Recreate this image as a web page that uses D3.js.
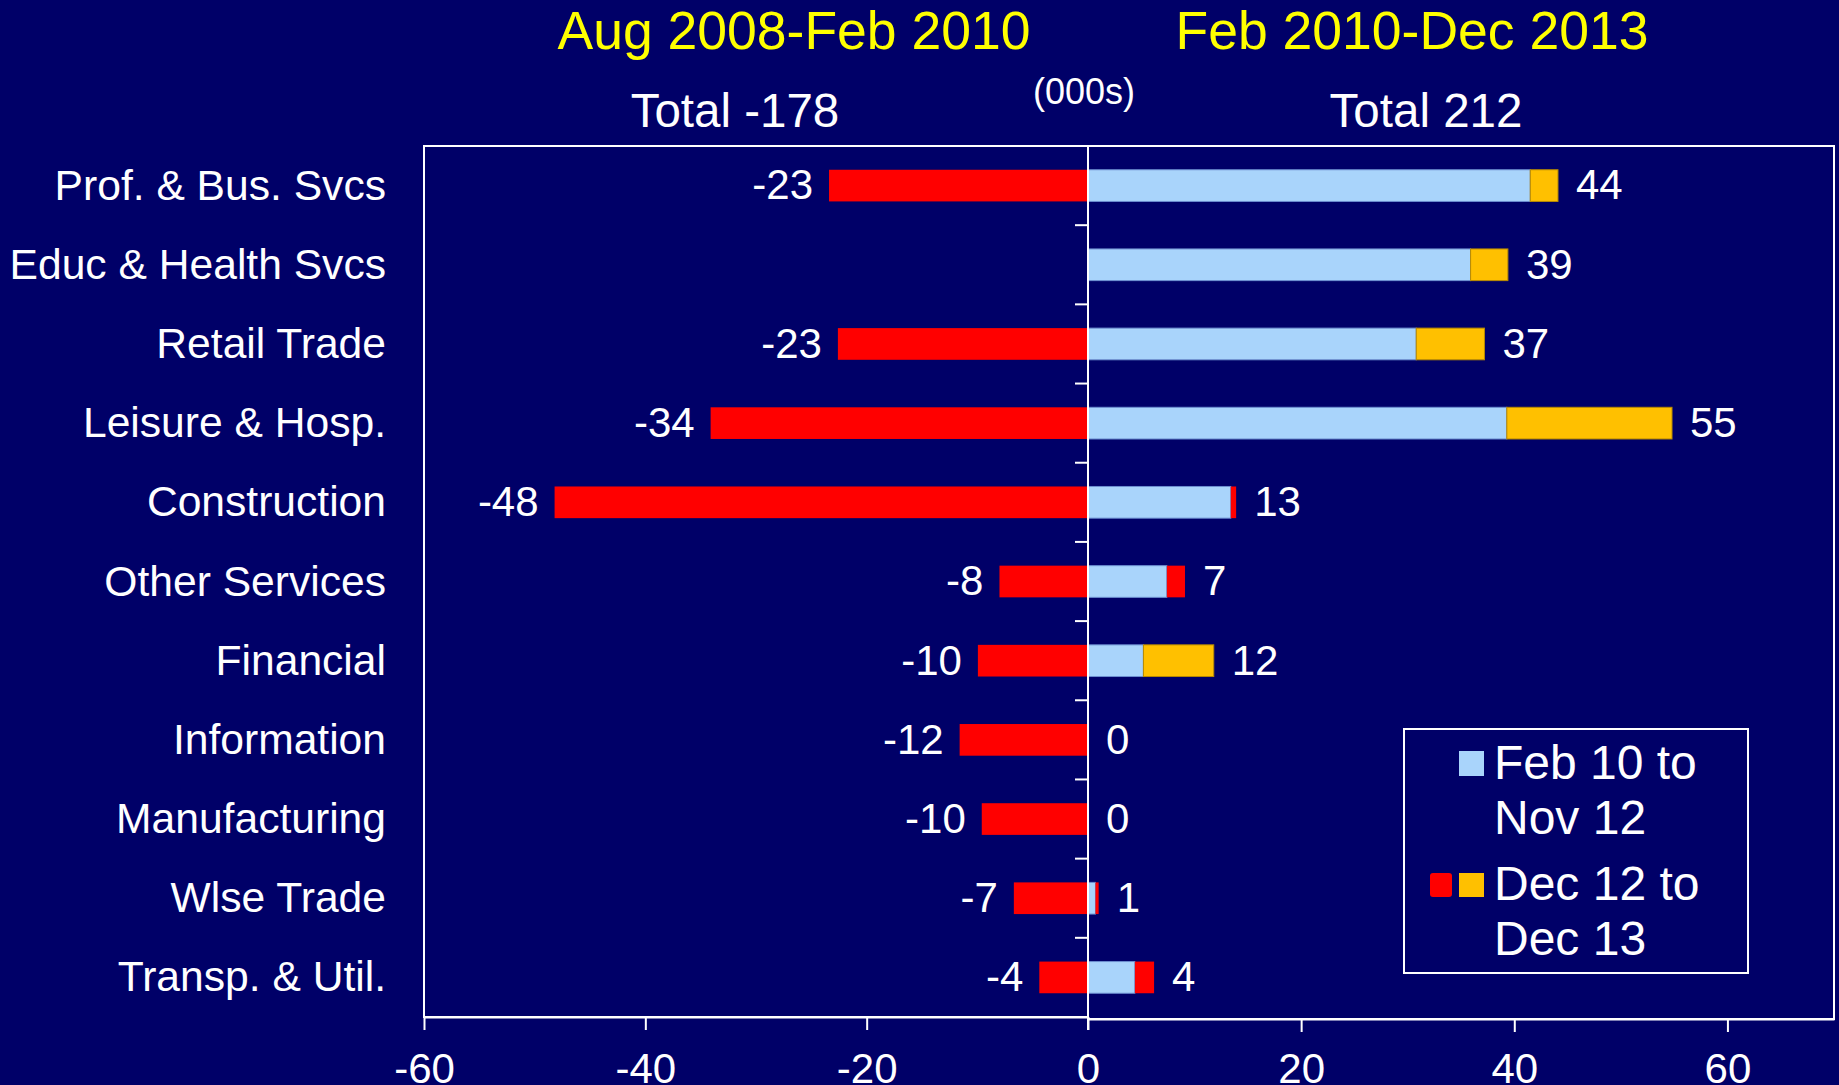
<!DOCTYPE html>
<html>
<head>
<meta charset="utf-8">
<script src="https://cdn.jsdelivr.net/npm/d3@7"></script>
<style>
  body { margin: 0; background: #000068; }
  svg { display: block; font-family: "Liberation Sans", Arial, sans-serif; }
</style>
</head>
<body>
<div id="container"></div>
<script>
/* DATA */
const categories = ["Prof. & Bus. Svcs", "Educ & Health Svcs", "Retail Trade", "Leisure & Hosp.",
  "Construction", "Other Services", "Financial", "Information", "Manufacturing", "Wlse Trade",
  "Transp. & Util."];
// Aug 2008 - Feb 2010 change (000s)
const recession = [-23.4, null, -22.6, -34.1, -48.2, -8.0, -9.95, -11.6, -9.6, -6.7, -4.4];
// Feb 2010 - Dec 2013, split in two periods
const febToNov12 = [41.5, 35.9, 30.8, 39.3, 13.9, 9.1, 5.2, 0, 0, 1.0, 6.2];
const dec12ToDec13 = [2.6, 3.5, 6.4, 15.5, -0.5, -1.7, 6.6, 0, 0, -0.3, -1.8];
const leftTicks = [-60, -40, -20, 0];
const rightTicks = [20, 40, 60];
const titles = ["Aug 2008-Feb 2010", "Feb 2010-Dec 2013"];
const totals = ["Total -178", "Total 212"];
const legendLabels = [["Feb 10 to", "Nov 12"], ["Dec 12 to", "Dec 13"]];

/* CONSTANTS */
const width = 1839, height = 1085;
const plotTop = 146, plotBottom = 1017;
const colors = { bg: "#000068", light: "#a9d4fb", orange: "#ffc000", red: "#ff0000", yellow: "#ffff00" };

const svg = d3.select("#container").append("svg")
  .attr("width", width)
  .attr("height", height);

svg.append("rect").attr("width", width).attr("height", height).attr("fill", colors.bg);

// SCALES
const xLeft = d3.scaleLinear().domain([-60, 0]).range([424, 1088]);
const xRight = d3.scaleLinear().domain([0, 70]).range([1088, 1834]);
const y = d3.scaleBand().domain(categories).range([plotTop, plotBottom]).paddingInner(0.6).paddingOuter(0.3);

// PLOT BOXES
svg.append("rect")
  .attr("x", xLeft(-60)).attr("y", plotTop)
  .attr("width", xLeft(0) - xLeft(-60)).attr("height", plotBottom - plotTop)
  .attr("fill", "none").attr("stroke", "white").attr("stroke-width", 2);
svg.append("rect")
  .attr("x", xRight(0)).attr("y", plotTop)
  .attr("width", xRight(70) - xRight(0)).attr("height", plotBottom - plotTop + 2)
  .attr("fill", "none").attr("stroke", "white").attr("stroke-width", 2);

// LEFT BARS
const rows = categories.map((c, i) => ({
  cat: c, left: recession[i], feb: febToNov12[i], dec: dec12ToDec13[i]
}));

svg.selectAll("rect.left")
  .data(rows.filter(d => d.left != null))
  .join("rect")
  .attr("class", "left")
  .attr("x", d => xLeft(d.left))
  .attr("y", d => y(d.cat))
  .attr("width", d => xLeft(0) - xLeft(d.left))
  .attr("height", y.bandwidth())
  .attr("fill", colors.red);

svg.selectAll("text.leftval")
  .data(rows.filter(d => d.left != null))
  .join("text")
  .attr("class", "leftval")
  .attr("x", d => xLeft(d.left) - 16)
  .attr("y", d => y(d.cat) + y.bandwidth() / 2)
  .attr("dy", "0.33em")
  .attr("text-anchor", "end")
  .attr("fill", "white")
  .attr("font-size", 42)
  .text(d => Math.round(d.left));

// RIGHT BARS
const rg = svg.append("g");
rg.selectAll("rect.light")
  .data(rows.filter(d => d.feb > 0))
  .join("rect")
  .attr("class", "light")
  .attr("x", xRight(0))
  .attr("y", d => y(d.cat))
  .attr("width", d => xRight(Math.min(d.feb, d.feb + d.dec)) - xRight(0))
  .attr("height", y.bandwidth())
  .attr("fill", colors.light)
  .attr("stroke", "#6d8fd0").attr("stroke-width", 1);

rg.selectAll("rect.gain")
  .data(rows.filter(d => d.dec > 0))
  .join("rect")
  .attr("class", "gain")
  .attr("x", d => xRight(d.feb))
  .attr("y", d => y(d.cat))
  .attr("width", d => xRight(d.feb + d.dec) - xRight(d.feb))
  .attr("height", y.bandwidth())
  .attr("fill", colors.orange)
  .attr("stroke", "#b88a00").attr("stroke-width", 1);

rg.selectAll("rect.loss")
  .data(rows.filter(d => d.dec < 0))
  .join("rect")
  .attr("class", "loss")
  .attr("x", d => xRight(d.feb + d.dec))
  .attr("y", d => y(d.cat))
  .attr("width", d => xRight(d.feb) - xRight(d.feb + d.dec))
  .attr("height", y.bandwidth())
  .attr("fill", colors.red);

rg.selectAll("text.rightval")
  .data(rows)
  .join("text")
  .attr("class", "rightval")
  .attr("x", d => xRight(Math.max(0, d.feb, d.feb + d.dec)) + 18)
  .attr("y", d => y(d.cat) + y.bandwidth() / 2)
  .attr("dy", "0.33em")
  .attr("fill", "white")
  .attr("font-size", 42)
  .text(d => Math.round(d.feb + d.dec));

// CATEGORY LABELS
svg.selectAll("text.cat")
  .data(categories)
  .join("text")
  .attr("class", "cat")
  .attr("x", 386)
  .attr("y", d => y(d) + y.bandwidth() / 2)
  .attr("dy", "0.33em")
  .attr("text-anchor", "end")
  .attr("fill", "white")
  .attr("font-size", 42.6)
  .text(d => d);

// ZERO LINE + CATEGORY TICKS
svg.append("line")
  .attr("x1", xLeft(0)).attr("x2", xLeft(0))
  .attr("y1", plotTop).attr("y2", plotBottom + 13)
  .attr("stroke", "white").attr("stroke-width", 2);
svg.selectAll("line.ctick")
  .data(d3.range(categories.length + 1))
  .join("line")
  .attr("class", "ctick")
  .attr("x1", xLeft(0) - 13).attr("x2", xLeft(0))
  .attr("y1", i => plotTop + i * y.step()).attr("y2", i => plotTop + i * y.step())
  .attr("stroke", "white").attr("stroke-width", 2);

// X AXES
function styleAxis(g) {
  g.select(".domain").attr("stroke", "white").attr("stroke-width", 2);
  g.selectAll(".tick line").attr("stroke", "white").attr("stroke-width", 2);
  g.selectAll(".tick text").attr("fill", "white").attr("font-size", 42)
    .attr("font-family", "'Liberation Sans', Arial, sans-serif");
}
svg.append("g")
  .attr("transform", `translate(0,${plotBottom})`)
  .call(d3.axisBottom(xLeft).tickValues(leftTicks).tickFormat(d => String(d))
    .tickSize(13).tickPadding(23).tickSizeOuter(0))
  .call(styleAxis);
svg.append("g")
  .attr("transform", `translate(0,${plotBottom + 2})`)
  .call(d3.axisBottom(xRight).tickValues(rightTicks).tickFormat(d => String(d))
    .tickSize(13).tickPadding(21).tickSizeOuter(0))
  .call(styleAxis);

// TITLES
svg.selectAll("text.title")
  .data(titles)
  .join("text")
  .attr("class", "title")
  .attr("x", (d, i) => [794, 1412][i])
  .attr("y", 49)
  .attr("text-anchor", "middle")
  .attr("fill", colors.yellow)
  .attr("font-size", 53.5)
  .text(d => d);
svg.selectAll("text.total")
  .data(totals)
  .join("text")
  .attr("class", "total")
  .attr("x", (d, i) => [735, 1426][i])
  .attr("y", 127)
  .attr("text-anchor", "middle")
  .attr("fill", "white")
  .attr("font-size", 47.5)
  .text(d => d);
svg.append("text")
  .attr("x", 1084).attr("y", 104)
  .attr("text-anchor", "middle")
  .attr("fill", "white")
  .attr("font-size", 36)
  .text("(000s)");

// LEGEND
const lg = svg.append("g");
lg.append("rect")
  .attr("x", 1404).attr("y", 729).attr("width", 344).attr("height", 244)
  .attr("fill", colors.bg).attr("stroke", "white").attr("stroke-width", 2);
lg.append("rect").attr("x", 1459).attr("y", 751).attr("width", 25).attr("height", 25).attr("fill", colors.light);
lg.append("rect").attr("x", 1430).attr("y", 873).attr("width", 22).attr("height", 24).attr("rx", 3).attr("fill", colors.red);
lg.append("rect").attr("x", 1459).attr("y", 873).attr("width", 25).attr("height", 24).attr("fill", colors.orange);
legendLabels.forEach((lines, i) => {
  lines.forEach((t, j) => {
    lg.append("text")
      .attr("x", 1494)
      .attr("y", 779 + i * 121 + j * 55)
      .attr("fill", "white")
      .attr("font-size", 48)
      .text(t);
  });
});
</script>
</body>
</html>
